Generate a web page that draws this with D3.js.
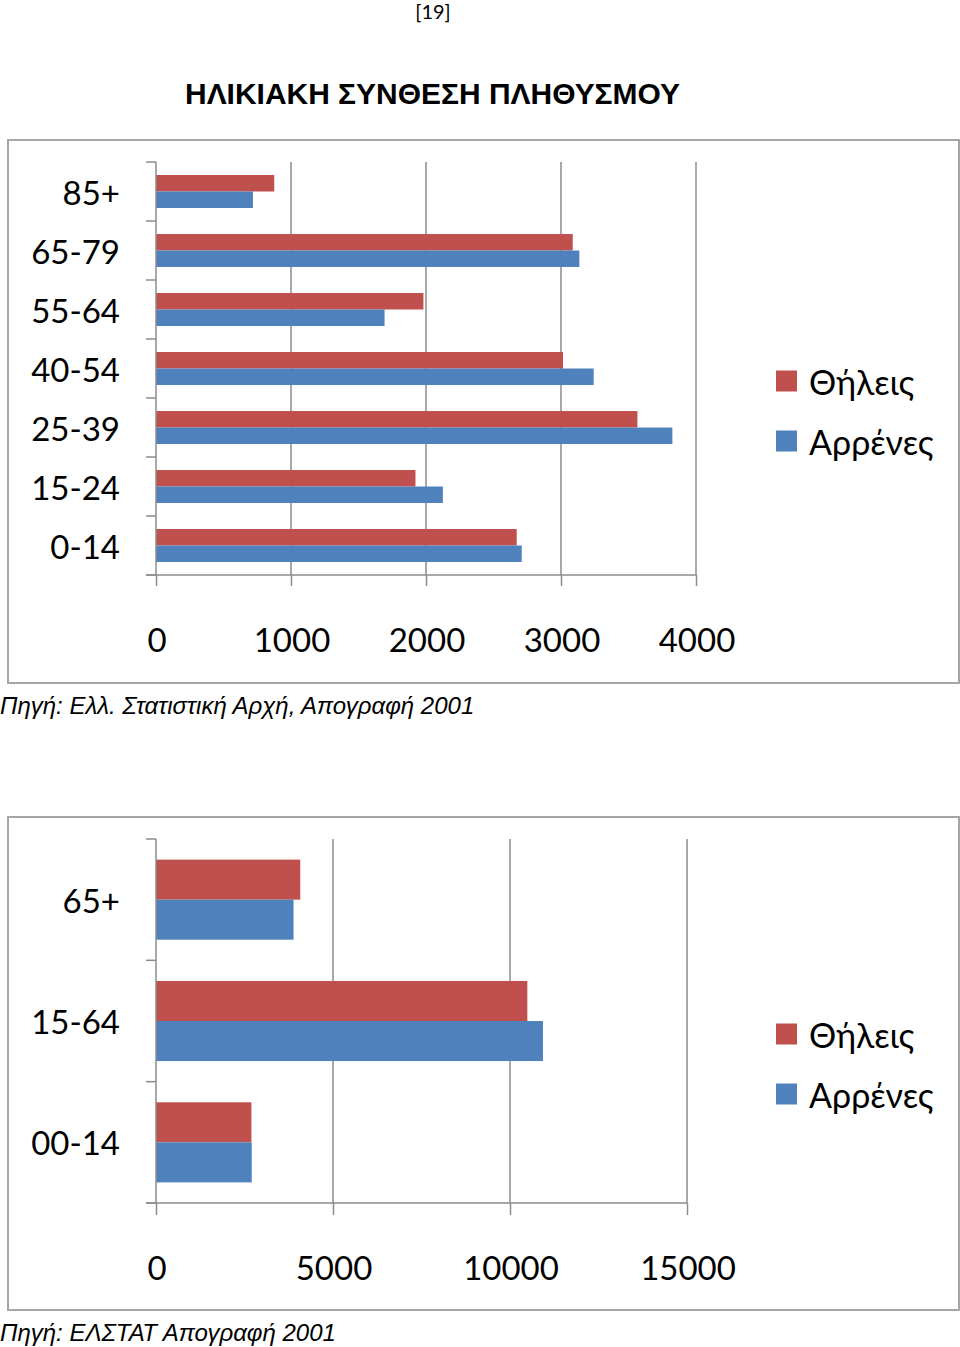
<!DOCTYPE html>
<html>
<head>
<meta charset="utf-8">
<script src="https://cdn.jsdelivr.net/npm/d3@7"></script>
<style>
  html, body { margin: 0; padding: 0; background: #ffffff; }
  svg { display: block; }
</style>
</head>
<body>
<svg id="chart" width="960" height="1347"></svg>
<script>
// ---------- DATA ----------
const pageNumber = "[19]";
const titleText = "ΗΛΙΚΙΑΚΗ ΣΥΝΘΕΣΗ ΠΛΗΘΥΣΜΟΥ";
const seriesNames = ["Θήλεις", "Αρρένες"];

const categories1 = ["85+", "65-79", "55-64", "40-54", "25-39", "15-24", "0-14"];
const females1 = [876, 3087, 1981, 3015, 3566, 1922, 2672];
const males1 = [718, 3136, 1693, 3242, 3825, 2125, 2709];
const ticks1 = [0, 1000, 2000, 3000, 4000];
const source1 = "Πηγή: Ελλ. Στατιστική Αρχή, Απογραφή 2001";

const categories2 = ["65+", "15-64", "00-14"];
const females2 = [4075, 10490, 2695];
const males2 = [3885, 10931, 2705];
const ticks2 = [0, 5000, 10000, 15000];
const source2 = "Πηγή: ΕΛΣΤΑΤ Απογραφή 2001";

// ---------- STYLE ----------
const colors = ["#C0504D", "#4F81BD"];
const gridColor = "#8c8c8c";
const frameColor = "#a6a6a6";
const labelFont = "Lato, 'Open Sans', sans-serif";

const svg = d3.select("#chart");

svg.append("text")
  .attr("x", 433).attr("y", 19)
  .attr("text-anchor", "middle")
  .style("font-family", labelFont)
  .style("font-size", "20px")
  .text(pageNumber);

svg.append("text")
  .attr("x", 185).attr("y", 104)
  .attr("textLength", 495)
  .attr("lengthAdjust", "spacingAndGlyphs")
  .style("font-family", "'Liberation Sans Narrow', 'Liberation Sans', Arial, sans-serif")
  .style("font-weight", "bold")
  .style("font-size", "29px")
  .text(titleText);

function drawChart(cfg) {
  const g = svg.append("g");
  // frame
  g.append("rect")
    .attr("x", cfg.frame[0]).attr("y", cfg.frame[1])
    .attr("width", cfg.frame[2]).attr("height", cfg.frame[3])
    .attr("fill", "#fff").attr("stroke", frameColor).attr("stroke-width", 2);

  const x = d3.scaleLinear().domain(cfg.domain).range([cfg.left, cfg.right]);
  const y0 = d3.scaleBand().domain(cfg.categories).range([cfg.top, cfg.bottom]);
  const bw = y0.bandwidth();
  const barH = bw / (2 + cfg.gap);
  const y1 = d3.scaleBand().domain(seriesNames)
    .range([(bw - 2 * barH) / 2, (bw + 2 * barH) / 2]);

  // gridlines
  g.append("g").selectAll("line").data(cfg.ticks.slice(1)).join("line")
    .attr("x1", d => x(d)).attr("x2", d => x(d))
    .attr("y1", cfg.top).attr("y2", cfg.bottom)
    .attr("stroke", gridColor).attr("stroke-width", 1.5);

  // bars
  const rows = cfg.categories.map((c, i) => ({ c, vals: [cfg.females[i], cfg.males[i]] }));
  const rg = g.append("g").selectAll("g").data(rows).join("g")
    .attr("transform", d => `translate(0,${y0(d.c)})`);
  rg.selectAll("rect").data(d => d.vals.map((v, j) => ({ v, s: seriesNames[j], j }))).join("rect")
    .attr("x", x(0))
    .attr("y", d => y1(d.s))
    .attr("width", d => x(d.v) - x(0))
    .attr("height", y1.bandwidth())
    .attr("fill", d => colors[d.j]);

  // x axis
  const xAxis = d3.axisBottom(x).tickValues(cfg.ticks).tickSize(cfg.tickLen).tickFormat("");
  const xa = g.append("g").attr("transform", `translate(0,${cfg.bottom})`).call(xAxis);
  xa.select(".domain").remove();
  xa.selectAll("line").attr("stroke", gridColor).attr("stroke-width", 1.5);
  g.append("line")
    .attr("x1", cfg.left - 10).attr("x2", cfg.right)
    .attr("y1", cfg.bottom).attr("y2", cfg.bottom)
    .attr("stroke", gridColor).attr("stroke-width", 1.5);
  g.append("g").selectAll("text").data(cfg.ticks).join("text")
    .attr("x", d => x(d) + 1).attr("y", cfg.tickLabelY)
    .attr("text-anchor", "middle")
    .attr("dominant-baseline", "central")
    .style("font-family", labelFont)
    .style("font-size", cfg.fontSize + "px")
    .text(d => d);

  // y axis
  const bounds = cfg.categories.map(c => y0(c)).concat([cfg.bottom]);
  g.append("line")
    .attr("x1", cfg.left).attr("x2", cfg.left)
    .attr("y1", cfg.top).attr("y2", cfg.bottom)
    .attr("stroke", gridColor).attr("stroke-width", 1.5);
  g.append("g").selectAll("line").data(bounds).join("line")
    .attr("x1", cfg.left - 10).attr("x2", cfg.left)
    .attr("y1", d => d).attr("y2", d => d)
    .attr("stroke", gridColor).attr("stroke-width", 1.5);
  g.append("g").selectAll("text").data(cfg.categories).join("text")
    .attr("x", 120)
    .attr("y", d => y0(d) + bw / 2 + cfg.labelShift)
    .attr("text-anchor", "end")
    .attr("dominant-baseline", "central")
    .style("font-family", labelFont)
    .style("font-size", cfg.fontSize + "px")
    .text(d => d);

  // legend
  const lg = g.append("g").selectAll("g").data(seriesNames).join("g")
    .attr("transform", (d, i) => `translate(776,${cfg.legendY + i * 60})`);
  lg.append("rect").attr("x", 0).attr("y", -10.5).attr("width", 21).attr("height", 21)
    .attr("fill", (d, i) => colors[i]);
  lg.append("text").attr("x", 33).attr("y", 0)
    .attr("dominant-baseline", "central")
    .style("font-family", labelFont)
    .style("font-size", "34px")
    .text(d => d);

  // source
  svg.append("text")
    .attr("x", 0).attr("y", cfg.sourceY)
    .attr("dominant-baseline", "central")
    .style("font-family", "'Liberation Sans', Arial, sans-serif")
    .style("font-style", "italic")
    .style("font-size", "24px")
    .text(cfg.source);
}

drawChart({
  frame: [8, 140, 951, 543],
  domain: [0, 4000], left: 156, right: 696,
  top: 162, bottom: 575,
  categories: categories1, females: females1, males: males1,
  ticks: ticks1, tickLen: 11, tickLabelY: 639,
  gap: 1.58, fontSize: 33, labelShift: 0,
  legendY: 381, source: source1, sourceY: 705
});

drawChart({
  frame: [8, 817, 951, 493],
  domain: [0, 15000], left: 156, right: 687,
  top: 839, bottom: 1203,
  categories: categories2, females: females2, males: males2,
  ticks: ticks2, tickLen: 12, tickLabelY: 1267,
  gap: 1.03, fontSize: 33, labelShift: 0,
  legendY: 1034, source: source2, sourceY: 1332
});
</script>
</body>
</html>
